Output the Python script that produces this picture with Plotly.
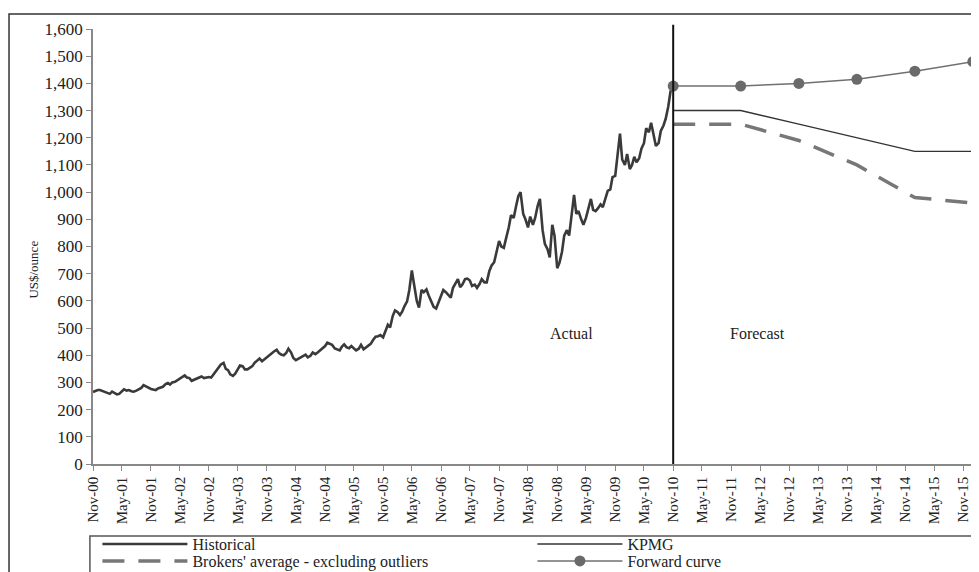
import pandas as pd
import plotly.graph_objects as go

# ---------------- data ----------------
# Historical gold price, US$/ounce, semi-monthly (1st & 15th), Nov-2000 .. Nov-2010
hist_values = [
    265, 268, 272, 272,                                              # 2000 Nov-Dec
    268, 264, 262, 258, 266, 260, 256, 258, 268, 275, 270, 272,      # 2001
    268, 266, 270, 274, 280, 290, 285, 280, 276, 274, 272, 278,
    280, 284, 294, 298, 292, 300, 302, 308, 312, 320, 326, 318,      # 2002
    316, 306, 310, 312, 318, 322, 316, 317, 320, 318, 330, 342,
    352, 366, 372, 350, 345, 330, 324, 332, 348, 362, 360, 348,      # 2003
    348, 355, 360, 372, 380, 388, 378, 385, 390, 398, 405, 414,
    420, 408, 402, 400, 408, 424, 410, 390, 382, 386, 392, 396,      # 2004
    402, 392, 398, 410, 404, 410, 418, 426, 434, 446, 442, 438,
    425, 422, 418, 432, 440, 430, 426, 434, 426, 418, 424, 438,      # 2005
    422, 428, 436, 442, 458, 468, 470, 474, 466, 490, 512, 502,
    545, 565, 558, 548, 560, 580, 598, 640, 712, 660, 600, 575,      # 2006
    640, 632, 642, 620, 598, 578, 572, 594, 622, 640, 632, 624,
    612, 648, 665, 680, 650, 660, 680, 682, 675, 655, 660, 648,      # 2007
    662, 680, 668, 668, 710, 730, 742, 780, 820, 800, 795, 830,
    870, 915, 905, 945, 985, 1000, 920, 900, 870, 910, 880, 905,     # 2008
    950, 975, 860, 810, 790, 760, 880, 840, 720, 740, 780, 840,
    860, 840, 930, 990, 920, 930, 900, 880, 905, 940, 975, 935,      # 2009
    930, 940, 955, 945, 980, 1005, 1010, 1055, 1060, 1125, 1215, 1120,
    1100, 1140, 1085, 1100, 1130, 1110, 1125, 1160, 1180, 1235, 1220, 1255,  # 2010
    1210, 1170, 1180, 1225, 1245, 1270, 1315, 1370, 1390,
]
hist_dates = pd.date_range("2000-11-01", periods=len(hist_values), freq="SMS")

forecast_dates = ["2010-11-01", "2011-12-31", "2012-12-31", "2013-12-31", "2014-12-31", "2015-12-31"]
kpmg_values = [1300, 1300, 1250, 1200, 1150, 1150]
brokers_values = [1250, 1250, 1190, 1100, 980, 960]
forward_values = [1390, 1390, 1400, 1415, 1445, 1480]

split_date = "2010-11-01"
tick_dates = pd.date_range("2000-11-01", "2015-11-01", freq="6MS")
tick_labels = [d.strftime("%b-%y") for d in tick_dates]
y_ticks = list(range(0, 1601, 100))

FONT = "Liberation Serif, Times New Roman, serif"

# ---------------- figure ----------------
fig = go.Figure()
fig.add_trace(go.Scatter(x=hist_dates, y=hist_values, name="Historical", mode="lines",
                         legend="legend",
                         line=dict(color="#3a3a3a", width=2.6)))
fig.add_trace(go.Scatter(x=forecast_dates, y=kpmg_values, name="KPMG", mode="lines",
                         legend="legend",
                         line=dict(color="#333333", width=1.4)))
fig.add_trace(go.Scatter(x=forecast_dates, y=brokers_values,
                         name="Brokers' average - excluding outliers", mode="lines",
                         legend="legend2",
                         line=dict(color="#777777", width=3.5, dash="22px,14px")))
fig.add_trace(go.Scatter(x=forecast_dates, y=forward_values, name="Forward curve",
                         mode="lines+markers", legend="legend2",
                         line=dict(color="#707070", width=1.5),
                         marker=dict(symbol="circle", size=11, color="#6a6a6a")))

fig.add_shape(type="line", xref="x", yref="paper", x0=split_date, x1=split_date,
              y0=0, y1=1.01, line=dict(color="#111111", width=2))
# outer chart frame
fig.add_shape(type="rect", xref="paper", yref="paper", x0=-0.0951, x1=1.02,
              y0=-0.35, y1=1.0345, line=dict(color="#333333", width=1.5), layer="below")
# legend frame
fig.add_shape(type="rect", xref="paper", yref="paper", x0=-0.0035, x1=0.9995,
              y0=-0.30, y1=-0.1655, line=dict(color="#555555", width=1.5), layer="below")

fig.add_annotation(x="2009-02-01", y=480, text="Actual", showarrow=False,
                   font=dict(family=FONT, size=16, color="#222"))
fig.add_annotation(x="2012-04-15", y=480, text="Forecast", showarrow=False,
                   font=dict(family=FONT, size=16, color="#222"))
fig.add_annotation(xref="paper", yref="paper", x=-0.078, y=0.446, text="US$/ounce",
                   textangle=-90, showarrow=False,
                   font=dict(family=FONT, size=13, color="#222"))

legend_common = dict(orientation="h", x=0.005, xanchor="left", yanchor="middle",
                     entrywidth=335, entrywidthmode="pixels", itemwidth=85,
                     borderwidth=0, bgcolor="rgba(0,0,0,0)",
                     font=dict(family=FONT, size=16, color="#222"),
                     tracegroupgap=0, itemclick=False, itemdoubleclick=False)

fig.update_layout(
    width=971, height=564,
    margin=dict(l=85, r=3, t=21, b=108, autoexpand=False),
    paper_bgcolor="white", plot_bgcolor="white",
    font=dict(family=FONT, size=15, color="#222"),
    showlegend=True,
    legend=dict(y=-0.184, **legend_common),
    legend2=dict(y=-0.223, **legend_common),
    xaxis=dict(type="date", range=["2000-11-01", "2016-01-20"],
               tickmode="array", tickvals=tick_dates, ticktext=tick_labels,
               tickangle=-90, ticks="outside", ticklen=5, tickcolor="#888",
               showline=True, linecolor="#888888", linewidth=1.5,
               showgrid=False, zeroline=False,
               tickfont=dict(family=FONT, size=15, color="#222")),
    yaxis=dict(range=[0, 1600], tickmode="array", tickvals=y_ticks, tickformat=",d",
               ticks="outside", ticklen=5, tickcolor="#888",
               showline=True, linecolor="#888888", linewidth=1.5,
               showgrid=False, zeroline=False,
               tickfont=dict(family=FONT, size=17, color="#222")),
)

fig.write_html("out.html")
